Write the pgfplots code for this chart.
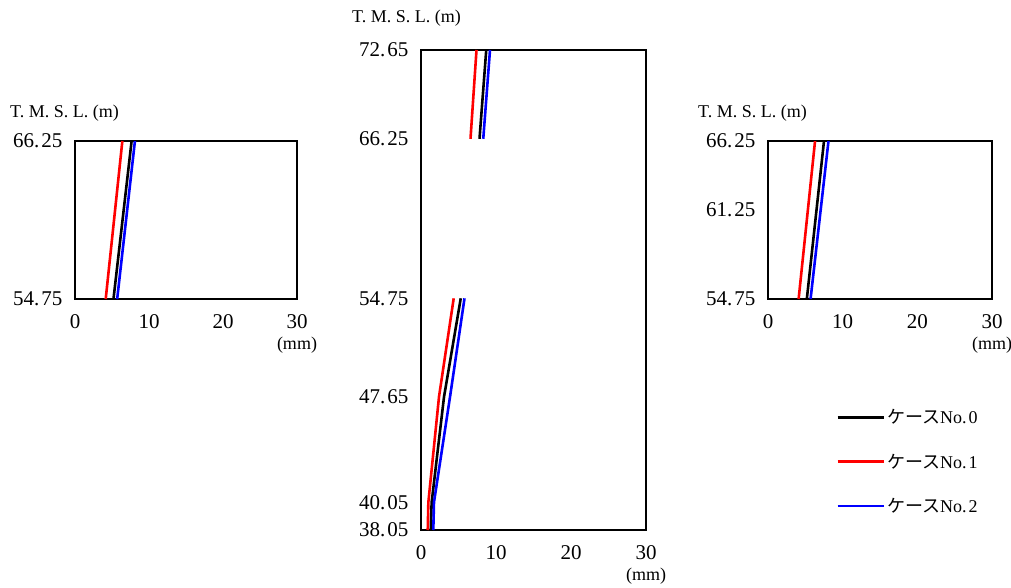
\documentclass[border=0pt]{standalone}
\usepackage{pgfplots}
\pgfplotsset{compat=1.18}
\usepackage{fontspec}
\setmainfont{Liberation Serif}
\newfontfamily\cjk{Noto Sans CJK JP}
\pgfplotsset{
  base/.style={
    scale only axis,
    xmin=0, xmax=30,
    xtick={0,10,20,30}, xticklabels={0,10,20,30},
    major tick length=0pt,
    axis line style={line width=1.1pt},
    tick label style={font=\fontsize{21}{24}\selectfont},
    xticklabel style={yshift=-12pt},
    yticklabel style={xshift=-9pt},
    xlabel={(mm)},
    xlabel style={at={(rel axis cs:1,0)}, anchor=center, yshift=-46pt, font=\fontsize{18}{20}\selectfont},
    every axis plot/.append style={line width=2.6pt},
  },
}
\begin{document}
\begin{tikzpicture}[x=1pt,y=1pt]
\useasboundingbox (0,0) rectangle (1011,587);
% left panel
\begin{axis}[base, at={(75pt,288pt)}, anchor=south west, width=222pt, height=158pt,
  ymin=54.75, ymax=66.25, ytick={54.75,66.25}, yticklabels={54.\kern2pt 75,66.\kern2pt 25}]
\addplot[black] coordinates {(5.2,54.75) (7.65,66.25)};
\addplot[red] coordinates {(4.15,54.75) (6.4,66.25)};
\addplot[blue] coordinates {(5.7,54.75) (8.1,66.25)};
\end{axis}
% middle panel
\begin{axis}[base, at={(421pt,57pt)}, anchor=south west, width=225pt, height=480pt,
  ymin=38.05, ymax=72.65, ytick={38.05,40.05,47.65,54.75,66.25,72.65},
  yticklabels={38.\kern2pt 05,40.\kern2pt 05,47.\kern2pt 65,54.\kern2pt 75,66.\kern2pt 25,72.\kern2pt 65}]
\addplot[black] coordinates {(7.8,66.25) (8.7,72.65)};
\addplot[red] coordinates {(6.6,66.25) (7.4,72.65)};
\addplot[blue] coordinates {(8.3,66.25) (9.2,72.65)};
\addplot[black] coordinates {(1.3,38.05) (1.42,40.05) (3.07,47.65) (5.3,54.75)};
\addplot[red] coordinates {(0.9,38.05) (0.98,40.05) (2.4,47.65) (4.36,54.75)};
\addplot[blue] coordinates {(1.64,38.05) (1.73,40.05) (3.87,47.65) (5.8,54.75)};
\end{axis}
% right panel
\begin{axis}[base, at={(768pt,288pt)}, anchor=south west, width=224pt, height=158pt,
  ymin=54.75, ymax=66.25, ytick={54.75,61.25,66.25}, yticklabels={54.\kern2pt 75,61.\kern2pt 25,66.\kern2pt 25},
  legend style={at={(axis description cs:0.295,-0.673)}, anchor=north west, draw=none,
    font=\fontsize{18}{20}\selectfont, row sep=24.5pt, inner sep=2pt},
  legend cell align=left,
  legend image code/.code={\draw[#1, line width=2.8pt] (0pt,0pt) -- (46pt,0pt);}]
\addplot[black] coordinates {(5.2,54.75) (7.5,66.25)};
\addlegendentry{{\cjk ケース}No.\kern2pt 0}
\addplot[red] coordinates {(4.1,54.75) (6.3,66.25)};
\addlegendentry{{\cjk ケース}No.\kern2pt 1}
\addplot[blue] coordinates {(5.7,54.75) (8.1,66.25)};
\addlegendentry{{\cjk ケース}No.\kern2pt 2}
\end{axis}
\node[anchor=west, font=\fontsize{18}{20}\selectfont, inner sep=0pt] at (10,474) {T. M. S. L. (m)};
\node[anchor=west, font=\fontsize{18}{20}\selectfont, inner sep=0pt] at (352,569) {T. M. S. L. (m)};
\node[anchor=west, font=\fontsize{18}{20}\selectfont, inner sep=0pt] at (698,474) {T. M. S. L. (m)};
\end{tikzpicture}
\end{document}
